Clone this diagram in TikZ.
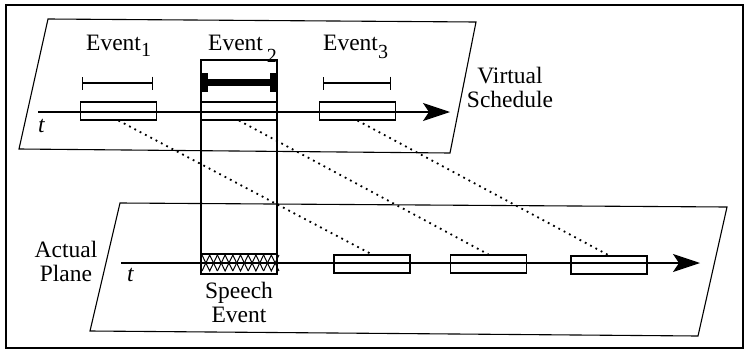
\documentclass[tikz,border=0pt]{standalone}
\usepackage{fontspec}
\setmainfont{Liberation Serif}
\usetikzlibrary{arrows.meta}

\newcommand{\evsub}[2]{\raisebox{#2}{\fontsize{20}{20}\selectfont #1}}

\begin{document}
\begin{tikzpicture}[x=1pt,y=-1pt,
  plane/.style={line width=1.1pt},
  slot/.style={draw,line width=1.1pt,minimum width=76pt,minimum height=18pt,inner sep=0pt},
  axis/.style={line width=1.1pt,-{Stealth[length=27pt,width=18pt,inset=6pt]}},
  link/.style={line width=1.8pt,dash pattern=on 1.8pt off 4.2pt},
  lbl/.style={font=\fontsize{23.5}{23.5}\selectfont,inner sep=0pt,align=center},
  span/.style={line width=1.1pt,{Bar[width=13pt]}-{Bar[width=13pt]}}
]
\useasboundingbox (0,0) rectangle (746,351);
\draw[line width=1.6pt] (6,5) rectangle (743,348);

\draw[plane] (48,19) -- (476,22) -- (450,153) -- (19,149) -- cycle;
\draw[plane] (120,203) -- (727,207) -- (698,336) -- (90,331) -- cycle;

\node[draw,line width=1.1pt,minimum width=76pt,minimum height=214pt,inner sep=0pt] (col) at (239,167) {};

\coordinate (vt0) at (38,112);
\coordinate (vt1) at (450,112);
\draw[axis] (vt0) -- (vt1);
\coordinate (at0) at (121,263);
\coordinate (at1) at (700,263);
\draw[axis] (at0) -- (at1);

\node[slot] (v1) at (118.5,111) {};
\node[slot] (v2) at (239,111) {};
\node[slot] (v3) at (357.5,111) {};
\node[slot] (a1) at (372,264) {};
\node[slot] (a2) at (488.5,264) {};
\node[slot] (a3) at (609,265) {};
\node[slot,minimum height=20pt] (sp) at (239,264) {};

\draw[span] (82,83) -- (153,83);
\draw[span] (323,83) -- (391,83);
\draw[line width=7pt] (207,82.5) -- (271,82.5);
\fill (201,73) rectangle (208,92);
\fill (270,73) rectangle (277,92);

\foreach \k in {0,...,4} {
  \draw[line width=1pt] (202+15.4*\k,255) -- (209.7+15.4*\k,271) -- (217.4+15.4*\k,255);
  \draw[line width=1pt] (202+15.4*\k,271) -- (209.7+15.4*\k,255) -- (217.4+15.4*\k,271);
}

\draw[link] (v1.south) -- (a1.north);
\draw[link] (v2.south) -- (a2.north);
\draw[link] (v3.south) -- (a3.north);

\node[lbl,anchor=base west] (e1) at (86,50) {Event\evsub{1}{-6pt}};
\node[lbl,anchor=base west] (e2) at (208,50) {Event\,\evsub{2}{-12pt}};
\node[lbl,anchor=base west] (e3) at (323,50) {Event\evsub{3}{-8pt}};
\node[lbl,anchor=base west] (t1) at (38,132) {\textit{t}};
\node[lbl,anchor=base west] (t2) at (127,281) {\textit{t}};
\node[lbl,anchor=base] (vs) at (510,107) {Virtual\\Schedule};
\node[lbl,anchor=base] (ap) at (66,281) {Actual\\Plane};
\node[lbl,anchor=base] (se) at (239,322) {Speech\\Event};
\end{tikzpicture}
\end{document}
